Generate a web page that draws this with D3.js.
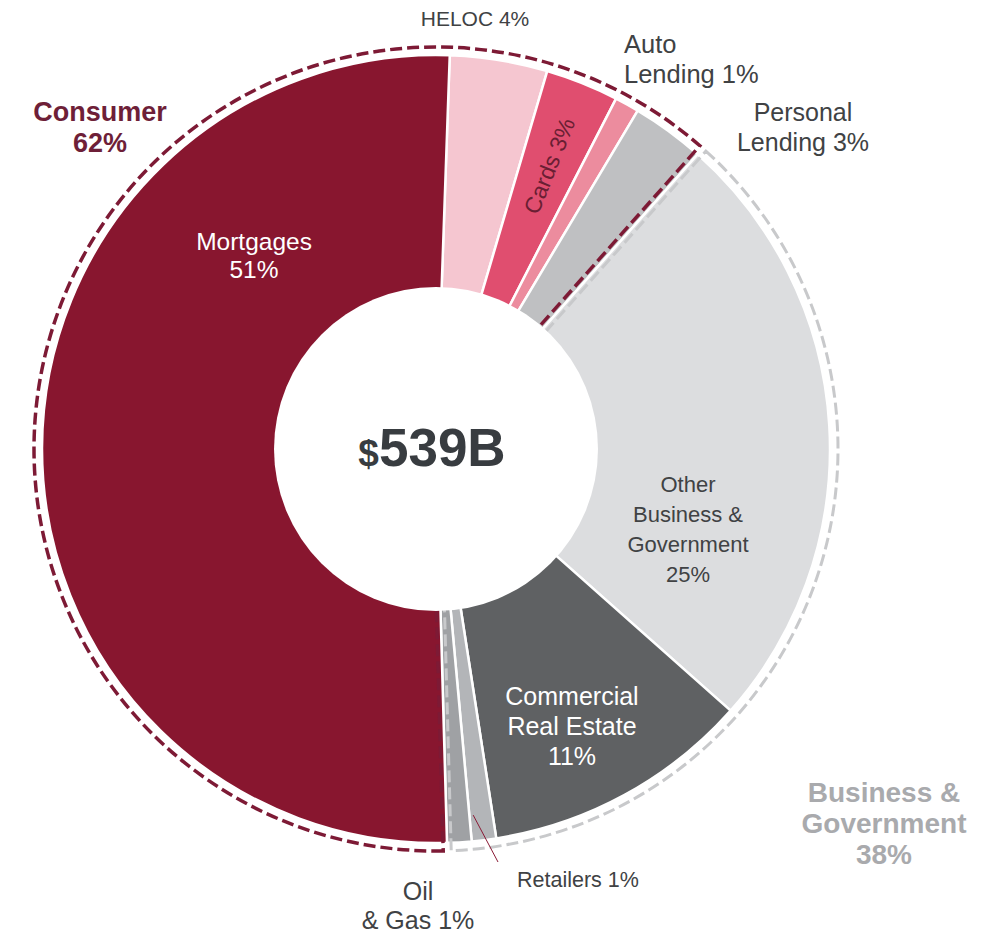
<!DOCTYPE html>
<html>
<head>
<meta charset="utf-8">
<script src="https://cdn.jsdelivr.net/npm/d3@7"></script>
<style>
  html, body { margin: 0; padding: 0; background: #ffffff; }
  svg { display: block; font-family: "Liberation Sans", Arial, Helvetica, sans-serif; }
</style>
</head>
<body>
<svg id="chart" width="989" height="933"></svg>
<script>
// Loan book composition, clockwise from the top
const categories = ["HELOC", "Cards", "Auto Lending", "Personal Lending",
  "Other Business & Government", "Commercial Real Estate", "Retailers", "Oil & Gas", "Mortgages"];
const shares = [4, 3, 1, 3, 25, 11, 1, 1, 51];
const segmentOf = ["Consumer", "Consumer", "Consumer", "Consumer",
  "Business & Government", "Business & Government", "Business & Government", "Business & Government", "Consumer"];
const segmentNames = ["Consumer", "Business & Government"];
const segmentShares = [62, 38];
const totalCurrency = "$";
const totalAmount = "539B";

// How each category name breaks over lines
const nameLines = [["HELOC"], ["Cards"], ["Auto", "Lending"], ["Personal", "Lending"],
  ["Other", "Business &", "Government"], ["Commercial", "Real Estate"], ["Retailers"], ["Oil", "& Gas"], ["Mortgages"]];
const segmentLines = [["Consumer"], ["Business &", "Government"]];

const colors = ["#f5c6d0", "#e04e6f", "#ec8c9e", "#bfc0c2", "#dcdddf", "#5f6163", "#b3b5b8", "#9fa1a4", "#88162f"];
const segmentColors = { "Consumer": "#7d1a35", "Business & Government": "#c8c9cb" };

const svg = d3.select("#chart");
const cx = 436, cy = 449;
const outerR = 394, innerR = 150, holeR = 162, ringR = 402;
const startDeg = 2;
const toRad = d => d * Math.PI / 180;

const g = svg.append("g").attr("transform", `translate(${cx},${cy})`);

const pie = d3.pie().sort(null).value(d => d)
  .startAngle(toRad(startDeg)).endAngle(toRad(startDeg) + 2 * Math.PI);
const arcs = pie(shares);

const arc = d3.arc().innerRadius(innerR).outerRadius(outerR);

// Slices
g.append("g").selectAll("path")
  .data(arcs)
  .join("path")
  .attr("d", arc)
  .attr("fill", (d, i) => colors[i])
  .attr("stroke", "#ffffff")
  .attr("stroke-width", 2.5)
  .attr("stroke-linejoin", "round");

// Segment outlines (dashed), spanning the slices of each segment
const segmentArcs = segmentNames.map(name => {
  const idx = d3.range(categories.length).filter(i => segmentOf[i] === name);
  let start, end;
  if (name === "Consumer") {
    // wraps past the top: from Mortgages' start to Personal Lending's end
    start = arcs[8].startAngle;
    end = arcs[3].endAngle + 2 * Math.PI;
  } else {
    start = d3.min(idx, i => arcs[i].startAngle);
    end = d3.max(idx, i => arcs[i].endAngle);
  }
  return { name, startAngle: start, endAngle: end };
});

const ringArc = d3.arc().innerRadius(innerR).outerRadius(ringR)
  .padRadius(ringR).padAngle(8 / ringR);

g.append("g").selectAll("path")
  .data(segmentArcs)
  .join("path")
  .attr("d", ringArc)
  .attr("fill", "none")
  .attr("stroke", d => segmentColors[d.name])
  .attr("stroke-width", d => d.name === "Consumer" ? 3.5 : 3)
  .attr("stroke-dasharray", "12,5");

// Centre hole
g.append("circle").attr("r", holeR).attr("fill", "#ffffff");

// Total
const total = g.append("text")
  .attr("x", -4).attr("y", 17)
  .attr("text-anchor", "middle")
  .attr("fill", "#383c40")
  .attr("font-weight", "bold");
total.append("tspan").attr("font-size", 37).text(totalCurrency);
total.append("tspan").attr("font-size", 53).text(totalAmount);

// Label placement relative to the chart centre
const labelLayout = [
  { x: 39, y: -423, anchor: "middle", size: 21, lh: 30, color: "#404244", inline: true },
  { polar: 305, anchor: "middle", size: 23, lh: 30, color: "#6a1e33", inline: true, rotate: true },
  { x: 188, y: -396, anchor: "start", size: 25.5, lh: 30, color: "#404244", inline: true },
  { x: 367, y: -328, anchor: "middle", size: 25, lh: 30, color: "#404244", inline: true },
  { x: 252, y: 43, anchor: "middle", size: 22, lh: 30, color: "#404244", inline: false },
  { x: 136, y: 256, anchor: "middle", size: 25, lh: 30, color: "#ffffff", inline: false },
  { x: 81, y: 438, anchor: "start", size: 21.5, lh: 30, color: "#404244", inline: true },
  { x: -18, y: 451, anchor: "middle", size: 25, lh: 29, color: "#404244", inline: true },
  { x: -182, y: -199, anchor: "middle", size: 24.5, lh: 28, color: "#ffffff", inline: false }
];

const labels = g.append("g");
arcs.forEach((a, i) => {
  const L = labelLayout[i];
  const pct = `${shares[i]}%`;
  const lines = nameLines[i].slice();
  if (L.inline) lines[lines.length - 1] += " " + pct; else lines.push(pct);

  const t = labels.append("text")
    .attr("text-anchor", L.anchor)
    .attr("font-size", L.size)
    .attr("fill", L.color);

  if (L.rotate) {
    const mid = (a.startAngle + a.endAngle) / 2;
    const px = L.polar * Math.sin(mid), py = -L.polar * Math.cos(mid);
    const deg = mid * 180 / Math.PI - 90;
    t.attr("transform", `translate(${px},${py}) rotate(${deg})`)
      .attr("dy", "0.35em")
      .text(lines[0]);
  } else {
    lines.forEach((s, k) => {
      t.append("tspan").attr("x", L.x).attr("y", L.y + k * L.lh).text(s);
    });
  }
});

// Leader line for the Retailers slice
const ret = arcs[6];
const leaderAngle = ret.endAngle - toRad(0.6);
const leaderR = 368;
g.append("line")
  .attr("x1", leaderR * Math.sin(leaderAngle))
  .attr("y1", -leaderR * Math.cos(leaderAngle))
  .attr("x2", 62)
  .attr("y2", 413)
  .attr("stroke", "#8a1a35")
  .attr("stroke-width", 1);

// Segment totals
const segmentLayout = [
  { x: -336, y: -328, size: 27, lh: 31, color: "#6e1f38" },
  { x: 448, y: 353, size: 28, lh: 31, color: "#a9aaad" }
];
segmentNames.forEach((name, i) => {
  const L = segmentLayout[i];
  const lines = segmentLines[i].concat([`${segmentShares[i]}%`]);
  const t = g.append("text")
    .attr("text-anchor", "middle")
    .attr("font-weight", "bold")
    .attr("font-size", L.size)
    .attr("fill", L.color);
  lines.forEach((s, k) => {
    t.append("tspan").attr("x", L.x).attr("y", L.y + k * L.lh).text(s);
  });
});
</script>
</body>
</html>
